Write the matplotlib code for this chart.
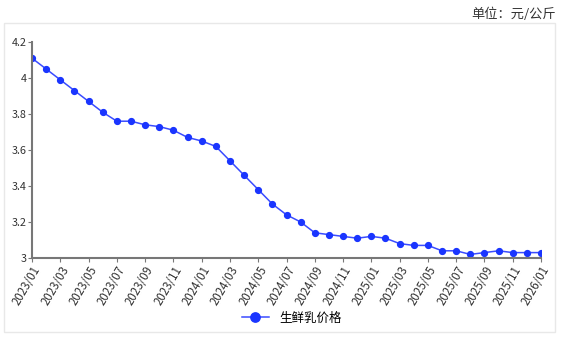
import matplotlib
matplotlib.use('Agg')
import matplotlib.pyplot as plt
from matplotlib.patches import Rectangle

plt.rcParams['font.family'] = ['Noto Sans CJK SC', 'DejaVu Sans']

# 月份标签
months = []
for y in [2023, 2024, 2025]:
    for m in range(1, 13):
        months.append('%d/%02d' % (y, m))
months.append('2026/01')

# 生鲜乳价格 (元/公斤)
prices = [4.11, 4.05, 3.99, 3.93, 3.87, 3.81, 3.76, 3.76, 3.74, 3.73, 3.71, 3.67,
          3.65, 3.62, 3.54, 3.46, 3.38, 3.30, 3.24, 3.20, 3.14, 3.13, 3.12, 3.11,
          3.12, 3.11, 3.08, 3.07, 3.07, 3.04, 3.04, 3.02, 3.03, 3.04, 3.03, 3.03,
          3.03]

yticks = [3, 3.2, 3.4, 3.6, 3.8, 4, 4.2]
ytick_labels = ['3', '3.2', '3.4', '3.6', '3.8', '4', '4.2']

fig = plt.figure(figsize=(5.61, 3.38), dpi=100)
fig.patches.append(Rectangle((4 / 561, 6 / 338), 551 / 561, 309 / 338,
                             transform=fig.transFigure, fill=False,
                             edgecolor='#e8e8e8', linewidth=1))
ax = fig.add_axes([32 / 561, 1 - 258 / 338, 509 / 561, 216 / 338])

x = list(range(len(months)))
ax.plot(x, prices, color='#3a4cff', linewidth=1.1, marker='o', markersize=4.2,
        markerfacecolor='#1a35ff', markeredgecolor='#1a35ff', label='生鲜乳价格')

ax.set_xlim(0, len(months) - 1)
ax.set_ylim(3, 4.2)
ax.set_xticks(x[::2])
ax.set_xticklabels(months[::2], rotation=60, ha='right', rotation_mode='anchor', fontsize=8.3)
ax.set_yticks(yticks)
ax.set_yticklabels(ytick_labels, fontsize=7.8)

for side in ['top', 'right']:
    ax.spines[side].set_visible(False)
for side in ['left', 'bottom']:
    ax.spines[side].set_color('#777777')
    ax.spines[side].set_linewidth(1.5)
ax.tick_params(colors='#333333', length=3, width=0.8, pad=1)
ax.tick_params(axis='both', color='#777777')

fig.text(556 / 561, 1 - 14 / 338, '单位：元/公斤', ha='right', va='center', fontsize=9.5, color='#333333')
fig.legend(loc='center', bbox_to_anchor=(0.52, 1 - 318 / 338), frameon=False, fontsize=9,
           handlelength=2.2, markerscale=1.6)

fig.savefig('out.png', dpi=100)
